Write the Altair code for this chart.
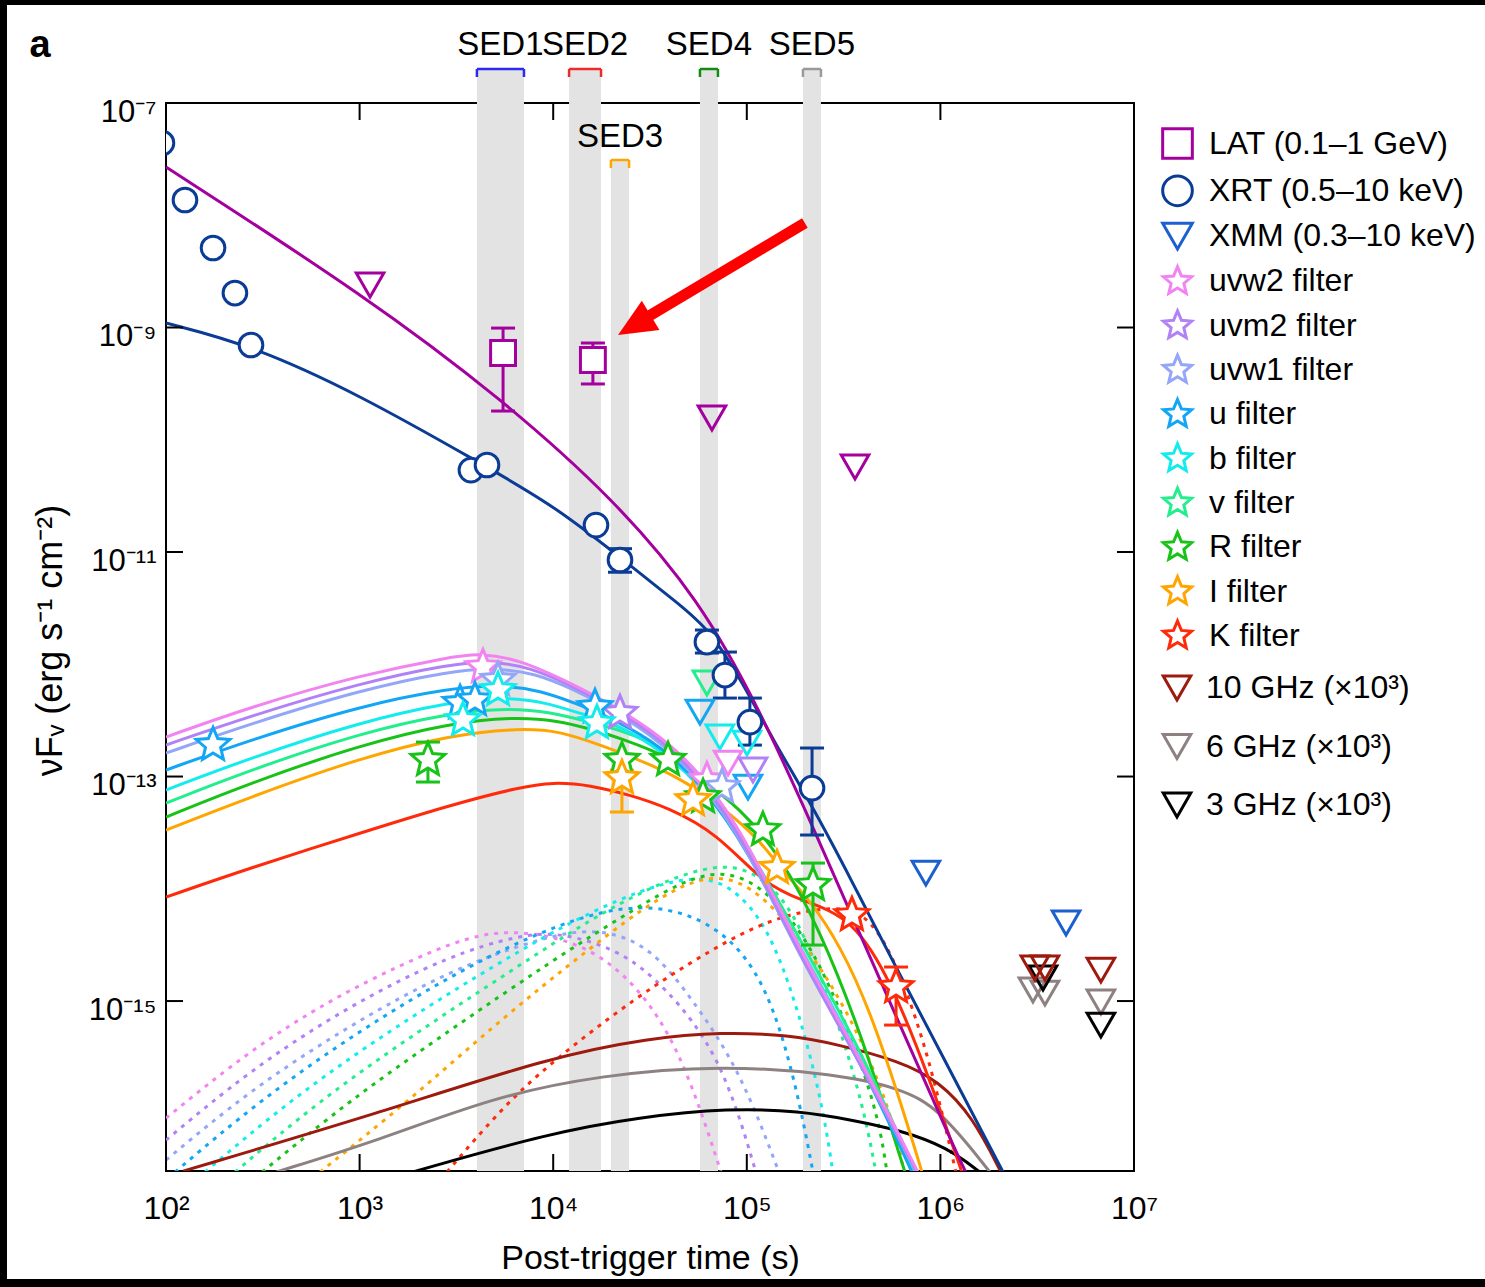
import altair as alt
import pandas as pd

FONT = "Liberation Sans, Arial, Helvetica, sans-serif"
W, H = 968, 1068
Y_BOTTOM = 10 ** -16.514

# ---------------------------------------------------------------------------
# Axis ticks
# ---------------------------------------------------------------------------
X_TICKS = [1e2, 1e3, 1e4, 1e5, 1e6, 1e7]
X_TICK_LABELS = ["10²", "10³", "10⁴", "10⁵", "10⁶", "10⁷"]
Y_TICKS = [1e-15, 1e-13, 1e-11, 1e-9, 1e-7]
Y_TICK_LABELS = ["10⁻¹⁵", "10⁻¹³", "10⁻¹¹", "10⁻⁹", "10⁻⁷"]

# ---------------------------------------------------------------------------
# SED epochs (log10 of start / end time in s)
# ---------------------------------------------------------------------------
SED_NAMES = ["SED1", "SED2", "SED3", "SED4", "SED5"]
SED_LOG_START = [3.606, 4.082, 4.298, 4.758, 5.290]
SED_LOG_END = [3.849, 4.247, 4.392, 4.851, 5.383]

# ---------------------------------------------------------------------------
# Model light curves: log10(t / s) and log10(nuFnu / erg s-1 cm-2)
# ---------------------------------------------------------------------------
LAT_MODEL_LT = [2.000, 3.038, 3.741, 4.309, 4.758, 5.068, 5.342, 5.621, 6.122, 6.204]
LAT_MODEL_LF = [-7.570, -8.728, -9.646, -10.519, -11.428, -12.408, -13.450, -14.546, -16.514, -16.773]
XRT_MODEL_LT = [2.000, 2.439, 3.002, 3.622, 3.999, 4.345, 4.655, 4.810, 4.980, 5.135, 5.342, 5.548, 5.724, 6.049, 6.359]
XRT_MODEL_LF = [-8.960, -9.156, -9.601, -10.207, -10.581, -11.045, -11.472, -11.695, -12.167, -12.675, -13.272, -13.949, -14.546, -15.615, -16.640]

UVW2_LT = [2.000, 2.434, 3.002, 3.467, 3.622, 3.828, 4.035, 4.242, 4.500, 4.758, 5.016, 5.259, 5.585, 5.884]
UVW2_LF = [-12.648, -12.381, -12.096, -11.936, -11.900, -11.962, -12.123, -12.301, -12.568, -12.942, -13.610, -14.501, -15.508, -16.524]
UVM2_LT = [2.000, 2.434, 3.002, 3.467, 3.673, 3.880, 4.087, 4.242, 4.500, 4.758, 5.016, 5.259, 5.585, 5.879]
UVM2_LF = [-12.719, -12.461, -12.167, -11.998, -11.971, -12.025, -12.185, -12.319, -12.586, -12.987, -13.655, -14.546, -15.544, -16.524]
UVW1_LT = [2.000, 2.434, 3.002, 3.467, 3.699, 3.906, 4.112, 4.242, 4.500, 4.758, 5.016, 5.259, 5.585, 5.874]
UVW1_LF = [-12.791, -12.532, -12.230, -12.060, -12.034, -12.078, -12.230, -12.345, -12.613, -13.014, -13.673, -14.564, -15.544, -16.524]
U_LT = [2.000, 2.434, 3.002, 3.467, 3.725, 3.932, 4.138, 4.242, 4.500, 4.758, 5.016, 5.259, 5.585, 5.853]
U_LF = [-12.942, -12.675, -12.372, -12.212, -12.185, -12.230, -12.363, -12.434, -12.657, -13.031, -13.682, -14.546, -15.526, -16.524]
B_LT = [2.000, 2.434, 3.002, 3.467, 3.751, 3.958, 4.164, 4.293, 4.500, 4.758, 5.016, 5.275, 5.585, 5.858]
B_LF = [-13.120, -12.835, -12.515, -12.336, -12.292, -12.336, -12.452, -12.515, -12.693, -13.049, -13.673, -14.528, -15.481, -16.524]
V_LT = [2.000, 2.434, 3.002, 3.467, 3.777, 3.983, 4.190, 4.345, 4.552, 4.758, 5.016, 5.275, 5.585, 5.869]
V_LF = [-13.236, -12.942, -12.613, -12.434, -12.390, -12.426, -12.515, -12.586, -12.719, -13.031, -13.637, -14.457, -15.419, -16.524]
R_LT = [2.000, 2.434, 3.002, 3.467, 3.803, 4.009, 4.216, 4.371, 4.577, 4.758, 4.965, 5.171, 5.378, 5.585, 5.817]
R_LF = [-13.361, -13.058, -12.719, -12.524, -12.470, -12.497, -12.586, -12.675, -12.809, -13.014, -13.281, -13.700, -14.368, -15.259, -16.524]
I_LT = [2.000, 2.434, 3.002, 3.467, 3.828, 4.035, 4.242, 4.448, 4.655, 4.861, 5.068, 5.171, 5.326, 5.481, 5.636, 5.791, 5.905]
I_LF = [-13.477, -13.183, -12.835, -12.630, -12.568, -12.595, -12.719, -12.853, -13.014, -13.254, -13.566, -13.815, -14.100, -14.501, -15.081, -15.882, -16.524]
K_LT = [2.000, 2.434, 3.002, 3.467, 3.828, 3.999, 4.190, 4.397, 4.588, 4.846, 5.083, 5.275, 5.548, 5.755, 5.946, 6.111]
K_LF = [-14.074, -13.815, -13.504, -13.254, -13.094, -13.049, -13.076, -13.165, -13.272, -13.504, -13.949, -14.100, -14.252, -14.858, -15.704, -16.524]

GHZ10_LT = [2.088, 3.100, 3.983, 4.500, 4.867, 5.223, 5.461, 5.791, 5.993, 6.168, 6.313]
GHZ10_LF = [-16.515, -15.998, -15.499, -15.330, -15.276, -15.303, -15.383, -15.535, -15.713, -16.034, -16.524]
GHZ6_LT = [2.568, 3.100, 3.689, 4.242, 4.867, 5.461, 5.791, 5.993, 6.256]
GHZ6_LF = [-16.524, -16.239, -15.856, -15.660, -15.570, -15.650, -15.775, -15.954, -16.524]
GHZ3_LT = [3.271, 3.983, 4.448, 4.908, 5.275, 5.543, 5.791, 6.034, 6.204]
GHZ3_LF = [-16.524, -16.176, -16.034, -15.954, -15.980, -16.060, -16.150, -16.301, -16.524]

# reverse-shock components (dotted)
UVW2_RS_LT = [2.000, 2.434, 2.847, 3.209, 3.570, 3.828, 4.159, 4.428, 4.660, 4.867]
UVW2_RS_LF = [-16.043, -15.437, -14.991, -14.680, -14.412, -14.368, -14.484, -14.840, -15.437, -16.524]
UVM2_RS_LT = [2.000, 2.434, 2.950, 3.467, 3.828, 4.035, 4.345, 4.572, 4.867, 5.047]
UVM2_RS_LF = [-16.239, -15.615, -15.036, -14.591, -14.412, -14.386, -14.546, -14.858, -15.481, -16.524]
UVW1_RS_LT = [2.000, 2.434, 2.950, 3.467, 3.932, 4.221, 4.500, 4.722, 4.965, 5.166]
UVW1_RS_LF = [-16.417, -15.793, -15.214, -14.724, -14.439, -14.341, -14.501, -14.991, -15.615, -16.524]
U_RS_LT = [2.046, 2.486, 3.002, 3.519, 4.035, 4.484, 4.867, 5.104, 5.254, 5.342]
U_RS_LF = [-16.524, -15.882, -15.259, -14.724, -14.296, -14.100, -14.323, -14.840, -15.731, -16.524]
B_RS_LT = [2.201, 2.640, 3.157, 3.673, 4.190, 4.722, 4.965, 5.166, 5.373, 5.445]
B_RS_LF = [-16.524, -15.882, -15.259, -14.706, -14.190, -13.833, -14.011, -14.501, -15.731, -16.524]
V_RS_LT = [2.356, 2.795, 3.312, 3.828, 4.345, 4.867, 5.120, 5.311, 5.579, 5.667]
V_RS_LF = [-16.524, -15.882, -15.259, -14.680, -14.100, -13.717, -13.922, -14.394, -15.731, -16.524]
R_RS_LT = [2.496, 2.950, 3.467, 3.983, 4.448, 4.867, 5.171, 5.399, 5.667, 5.724]
R_RS_LF = [-16.524, -15.882, -15.259, -14.653, -14.145, -13.744, -14.100, -14.697, -15.882, -16.524]
I_RS_LT = [2.795, 3.260, 3.725, 4.190, 4.552, 4.898, 5.223, 5.548, 5.755, 5.812]
I_RS_LF = [-16.524, -15.882, -15.170, -14.528, -14.056, -13.789, -14.279, -15.143, -16.034, -16.524]
K_RS_LT = [3.451, 3.725, 3.983, 4.428, 4.810, 5.135, 5.461, 5.636, 5.791, 5.946, 6.080]
K_RS_LF = [-16.524, -15.971, -15.553, -14.965, -14.546, -14.252, -14.145, -14.234, -14.724, -15.526, -16.524]

# ---------------------------------------------------------------------------
# Observations: log10(t / s) and log10(nuFnu)
# ---------------------------------------------------------------------------
LAT_OBS_LT = [3.741, 4.205]
LAT_OBS_LF = [-9.227, -9.290]
LAT_OBS_HI = [-9.005, -9.138]
LAT_OBS_LO = [-9.744, -9.503]
LAT_UL_LT = [3.054, 4.820, 5.559]
LAT_UL_LF = [-8.621, -9.806, -10.243]

XRT_OBS_LT = [1.979, 2.098, 2.243, 2.356, 2.439, 3.575, 3.658, 4.221, 4.345, 4.794, 4.887, 5.016, 5.337]
XRT_OBS_LF = [-7.356, -7.864, -8.292, -8.693, -9.156, -10.270, -10.225, -10.760, -11.071, -11.802, -12.096, -12.515, -13.103]
XRT_ERR_LT = [4.345, 4.794, 4.887, 5.016, 5.337]
XRT_ERR_HI = [-10.970, -11.695, -11.891, -12.301, -12.746]
XRT_ERR_LO = [-11.180, -11.900, -12.301, -12.720, -13.521]

XMM_UL_LT = [5.925, 6.649]
XMM_UL_LF = [-13.860, -14.305]

UVW2_OBS_LT = [3.637, 4.794]
UVW2_OBS_LF = [-12.025, -13.031]
UVM2_OBS_LT = [4.345]
UVM2_OBS_LF = [-12.434]
UVW1_OBS_LT = [3.715, 4.872]
UVW1_OBS_LF = [-12.140, -13.094]
U_OBS_LT = [2.243, 3.519, 3.596, 4.216]
U_OBS_LF = [-12.719, -12.345, -12.319, -12.381]
B_OBS_LT = [3.534, 3.715, 4.226]
B_OBS_LF = [-12.497, -12.230, -12.524]
V_OBS_LT = []
V_OBS_LF = []
R_OBS_LT = [3.353, 4.355, 4.593, 4.774, 5.083, 5.342]
R_OBS_LF = [-12.853, -12.853, -12.853, -13.183, -13.477, -13.967]
R_ERR_LT = [3.353, 5.342]
R_ERR_HI = [-12.693, -13.771]
R_ERR_LO = [-13.049, -14.501]
I_OBS_LT = [4.355, 4.722, 5.156]
I_OBS_LF = [-13.014, -13.210, -13.815]
I_ERR_LT = [4.355]
I_ERR_HI = [-12.942]
I_ERR_LO = [-13.316]
K_OBS_LT = [5.543, 5.771]
K_OBS_LF = [-14.234, -14.876]
K_ERR_LT = [5.771]
K_ERR_HI = [-14.697]
K_ERR_LO = [-15.214]

# UVOT upper limits
UVW2_UL_LT, UVW2_UL_LF = [4.903], [-12.880]
UVM2_UL_LT, UVM2_UL_LF = [5.032], [-12.942]
U_UL_LT, U_UL_LF = [4.758, 5.006], [-12.426, -13.094]
B_UL_LT, B_UL_LF = [4.861, 5.001], [-12.648, -12.702]
V_UL_LT, V_UL_LF = [4.794], [-12.167]

# radio upper limits (already multiplied by 10^3)
GHZ10_UL_LT, GHZ10_UL_LF = [6.488, 6.540, 6.829], [-14.706, -14.706, -14.724]
GHZ6_UL_LT, GHZ6_UL_LF = [6.478, 6.540, 6.829], [-14.902, -14.929, -15.009]
GHZ3_UL_LT, GHZ3_UL_LF = [6.530, 6.829], [-14.795, -15.214]

# arrow pointing at the LAT detection in SED2: tail, end of shaft, tip
ARROW_LT = [5.300, 4.443, 4.335]
ARROW_LF = [-8.069, -8.951, -9.067]

# ---------------------------------------------------------------------------
# Styling
# ---------------------------------------------------------------------------
C_LAT, C_XRT, C_XMM = "#a4009e", "#0b3c95", "#1c5fcf"
C_UVW2, C_UVM2, C_UVW1 = "#f184f1", "#b181f7", "#93a6f7"
C_U, C_B, C_V = "#12a6f5", "#12ecec", "#22ee8e"
C_R, C_I, C_K = "#17c317", "#ffa500", "#ff2a0a"
C_10, C_6, C_3 = "#9c1a0e", "#8d8181", "#000000"
SED_COLORS = ["#2a2af0", "#f02a2a", "#ffa500", "#118c11", "#9a9a9a"]

# five-pointed star drawn inside the unit box
STAR = ("M0,-1L0.2645,-0.364L0.9511,-0.309L0.428,0.139L0.5878,0.809"
        "L0,0.45L-0.5878,0.809L-0.428,0.139L-0.9511,-0.309L-0.2645,-0.364Z")
ARROW_HEAD = "M0,0L0.45,1L-0.45,1Z"

LEGEND_NAMES = ["LAT (0.1–1 GeV)", "XRT (0.5–10 keV)", "XMM (0.3–10 keV)",
                "uvw2 filter", "uvm2 filter", "uvw1 filter", "u filter", "b filter",
                "v filter", "R filter", "I filter", "K filter"]
LEGEND_COLORS = [C_LAT, C_XRT, C_XMM, C_UVW2, C_UVM2, C_UVW1, C_U, C_B, C_V, C_R, C_I, C_K]
LEGEND_SHAPES = ["square", "circle", "triangle-down"] + [STAR] * 9
RADIO_NAMES = ["10 GHz (×10³)", "6 GHz (×10³)", "3 GHz (×10³)"]
RADIO_COLORS = [C_10, C_6, C_3]

SYMBOL_SIZE = {"square": 620, "circle": 560, "triangle-down": 760, STAR: 1250}
SYMBOL_FILL = {"square": "white", "circle": "white", "triangle-down": "transparent", STAR: "white"}


def ladder(ticks, labels):
    expr = f"'{labels[-1]}'"
    for v, lab in reversed(list(zip(ticks[:-1], labels[:-1]))):
        expr = f"datum.value < {v * 3:.3g} ? '{lab}' : ({expr})"
    return expr


X_SCALE = alt.Scale(type="log", domain=[1e2, 1e7], nice=False)
Y_SCALE = alt.Scale(type="log", domain=[Y_BOTTOM, 1e-7], nice=False)
X_AXIS = alt.Axis(values=X_TICKS, labelExpr=ladder(X_TICKS, X_TICK_LABELS),
                  title="Post-trigger time (s)", labelFlush=False, labelOverlap=False,
                  labelBaseline="alphabetic", labelPadding=47, labelFontSize=32,
                  titleY=97, titleBaseline="alphabetic", titleFontSize=34)
Y_AXIS = alt.Axis(values=Y_TICKS, labelExpr=ladder(Y_TICKS, Y_TICK_LABELS),
                  title="νFᵥ (erg s⁻¹ cm⁻²)", labelFlush=False, labelOverlap=False,
                  labelBaseline="alphabetic", labelOffset=18, labelPadding=10, labelFontSize=31,
                  titleX=-116, titleY=H / 2 + 3, titleAngle=-90, titleAlign="center",
                  titleBaseline="middle", titleFontSize=36)


def X(field):
    return alt.X(field, type="quantitative", scale=X_SCALE, axis=X_AXIS)


def Y(field):
    return alt.Y(field, type="quantitative", scale=Y_SCALE, axis=Y_AXIS)


def curve_rows(name, color, lt, lf):
    return [{"curve": name, "col": color, "t": 10 ** a, "f": 10 ** b} for a, b in zip(lt, lf)]


# ---------------------------------------------------------------------------
# Data frames
# ---------------------------------------------------------------------------
solid_df = pd.DataFrame(
    curve_rows("10GHz", C_10, GHZ10_LT, GHZ10_LF)
    + curve_rows("6GHz", C_6, GHZ6_LT, GHZ6_LF)
    + curve_rows("3GHz", C_3, GHZ3_LT, GHZ3_LF)
    + curve_rows("K", C_K, K_LT, K_LF)
    + curve_rows("I", C_I, I_LT, I_LF)
    + curve_rows("R", C_R, R_LT, R_LF)
    + curve_rows("v", C_V, V_LT, V_LF)
    + curve_rows("b", C_B, B_LT, B_LF)
    + curve_rows("u", C_U, U_LT, U_LF)
    + curve_rows("uvw1", C_UVW1, UVW1_LT, UVW1_LF)
    + curve_rows("uvm2", C_UVM2, UVM2_LT, UVM2_LF)
    + curve_rows("uvw2", C_UVW2, UVW2_LT, UVW2_LF)
    + curve_rows("xrt", C_XRT, XRT_MODEL_LT, XRT_MODEL_LF)
    + curve_rows("lat", C_LAT, LAT_MODEL_LT, LAT_MODEL_LF)
)

dotted_df = pd.DataFrame(
    curve_rows("uvw2", C_UVW2, UVW2_RS_LT, UVW2_RS_LF)
    + curve_rows("uvm2", C_UVM2, UVM2_RS_LT, UVM2_RS_LF)
    + curve_rows("uvw1", C_UVW1, UVW1_RS_LT, UVW1_RS_LF)
    + curve_rows("u", C_U, U_RS_LT, U_RS_LF)
    + curve_rows("b", C_B, B_RS_LT, B_RS_LF)
    + curve_rows("v", C_V, V_RS_LT, V_RS_LF)
    + curve_rows("R", C_R, R_RS_LT, R_RS_LF)
    + curve_rows("I", C_I, I_RS_LT, I_RS_LF)
    + curve_rows("K", C_K, K_RS_LT, K_RS_LF)
)

err_rows = []
for col, lts, his, los in [(C_LAT, LAT_OBS_LT, LAT_OBS_HI, LAT_OBS_LO),
                           (C_XRT, XRT_ERR_LT, XRT_ERR_HI, XRT_ERR_LO),
                           (C_R, R_ERR_LT, R_ERR_HI, R_ERR_LO),
                           (C_I, I_ERR_LT, I_ERR_HI, I_ERR_LO),
                           (C_K, K_ERR_LT, K_ERR_HI, K_ERR_LO)]:
    for a, hi, lo in zip(lts, his, los):
        err_rows.append({"col": col, "t": 10 ** a, "hi": 10 ** hi, "lo": 10 ** lo})
err_df = pd.DataFrame(err_rows)
cap_df = pd.concat([
    err_df[["col", "t", "hi"]].rename(columns={"hi": "f"}),
    err_df[["col", "t", "lo"]].rename(columns={"lo": "f"}),
])

obs_sets = [
    (LAT_OBS_LT, LAT_OBS_LF), (XRT_OBS_LT, XRT_OBS_LF), (XMM_UL_LT, XMM_UL_LF),
    (UVW2_OBS_LT, UVW2_OBS_LF), (UVM2_OBS_LT, UVM2_OBS_LF), (UVW1_OBS_LT, UVW1_OBS_LF),
    (U_OBS_LT, U_OBS_LF), (B_OBS_LT, B_OBS_LF), (V_OBS_LT, V_OBS_LF),
    (R_OBS_LT, R_OBS_LF), (I_OBS_LT, I_OBS_LF), (K_OBS_LT, K_OBS_LF),
]
obs_rows = []
for name, shape, (lts, lfs) in zip(LEGEND_NAMES, LEGEND_SHAPES, obs_sets):
    for a, b in zip(lts, lfs):
        obs_rows.append({"series": name, "t": 10 ** a, "f": 10 ** b,
                         "fc": SYMBOL_FILL[shape], "sz": SYMBOL_SIZE[shape]})
obs_df = pd.DataFrame(obs_rows)

ul_rows = []
for col, lts, lfs in [(C_LAT, LAT_UL_LT, LAT_UL_LF), (C_V, V_UL_LT, V_UL_LF),
                      (C_U, U_UL_LT, U_UL_LF), (C_B, B_UL_LT, B_UL_LF),
                      (C_UVW2, UVW2_UL_LT, UVW2_UL_LF), (C_UVM2, UVM2_UL_LT, UVM2_UL_LF)]:
    for a, b in zip(lts, lfs):
        ul_rows.append({"col": col, "t": 10 ** a, "f": 10 ** b})
ul_df = pd.DataFrame(ul_rows)

radio_rows = []
for name, lts, lfs in [(RADIO_NAMES[1], GHZ6_UL_LT, GHZ6_UL_LF),
                       (RADIO_NAMES[2], GHZ3_UL_LT, GHZ3_UL_LF),
                       (RADIO_NAMES[0], GHZ10_UL_LT, GHZ10_UL_LF)]:
    for a, b in zip(lts, lfs):
        radio_rows.append({"band": name, "t": 10 ** a, "f": 10 ** b})
radio_df = pd.DataFrame(radio_rows)

sed_df = pd.DataFrame({"name": SED_NAMES,
                       "t0": [10 ** v for v in SED_LOG_START],
                       "t1": [10 ** v for v in SED_LOG_END],
                       "col": SED_COLORS})
sed_top = sed_df[sed_df["name"] != "SED3"]
sed_low = sed_df[sed_df["name"] == "SED3"]

# ---------------------------------------------------------------------------
# Layers
# ---------------------------------------------------------------------------
layers = []

# SED shading, brackets and names
for part, ytop, ytext in [(sed_top, -34, -48), (sed_low, 57, 44)]:
    base = alt.Chart(part)
    layers.append(base.mark_rect(color="#e3e3e3").encode(
        x=X("t0"), x2="t1", y=alt.value(ytop), y2=alt.value(H)))
    layers.append(base.mark_rule(strokeWidth=2.5).encode(
        x=X("t0"), x2="t1", y=alt.value(ytop), stroke=alt.Stroke("col:N", scale=None)))
    for edge in ["t0", "t1"]:
        layers.append(base.mark_rule(strokeWidth=2.5).encode(
            x=X(edge), y=alt.value(ytop), y2=alt.value(ytop + 8),
            stroke=alt.Stroke("col:N", scale=None)))
    layers.append(base.mark_text(fontSize=33, baseline="alphabetic", align="center").encode(
        x=alt.X("tc:Q", scale=X_SCALE, axis=X_AXIS), y=alt.value(ytext), text="name:N"
    ).transform_calculate(tc="sqrt(datum.t0 * datum.t1)"))

# model curves
layers.append(alt.Chart(dotted_df).mark_line(
    strokeWidth=3, strokeDash=[4, 6], interpolate="basis", clip=True).encode(
    x=X("t"), y=Y("f"), detail="curve:N",
    stroke=alt.Stroke("col:N", scale=None)))
layers.append(alt.Chart(solid_df).mark_line(
    strokeWidth=3, interpolate="basis", clip=True).encode(
    x=X("t"), y=Y("f"), detail="curve:N",
    stroke=alt.Stroke("col:N", scale=None)))

# error bars with caps
layers.append(alt.Chart(err_df).mark_rule(strokeWidth=3).encode(
    x=X("t"), y=Y("lo"), y2="hi", stroke=alt.Stroke("col:N", scale=None)))
layers.append(alt.Chart(cap_df).mark_tick(orient="horizontal", size=24, thickness=3, opacity=1).encode(
    x=X("t"), y=Y("f"), color=alt.Color("col:N", scale=None)))

# upper limits that are not part of the legend
layers.append(alt.Chart(ul_df).mark_point(
    shape="triangle-down", size=760, strokeWidth=3, opacity=1, filled=False, clip=True).encode(
    x=X("t"), y=Y("f"), stroke=alt.Stroke("col:N", scale=None)))

# observations
main_legend = alt.Legend(
    title=None, orient="none", legendX=995, legendY=24, direction="vertical",
    labelFont=FONT, labelFontSize=32, labelColor="black", labelLimit=400,
    symbolSize=880, symbolStrokeWidth=3, symbolFillColor="white",
    rowPadding=4.3, labelOffset=15, padding=0)
layers.append(alt.Chart(obs_df).mark_point(strokeWidth=3, opacity=1, filled=False, clip=True).encode(
    x=X("t"), y=Y("f"),
    stroke=alt.Stroke("series:N", scale=alt.Scale(domain=LEGEND_NAMES, range=LEGEND_COLORS),
                      legend=main_legend),
    shape=alt.Shape("series:N", scale=alt.Scale(domain=LEGEND_NAMES, range=LEGEND_SHAPES),
                    legend=main_legend),
    fill=alt.Fill("fc:N", scale=None),
    size=alt.Size("sz:Q", scale=None)))

radio_legend = alt.Legend(
    title=None, orient="none", legendX=995, legendY=569, direction="vertical",
    labelFont=FONT, labelFontSize=32, labelColor="black", labelLimit=400,
    symbolSize=760, symbolStrokeWidth=3, symbolFillColor="transparent",
    rowPadding=22.5, labelOffset=13, padding=0)
layers.append(alt.Chart(radio_df).mark_point(
    shape="triangle-down", size=760, strokeWidth=3, opacity=1, filled=False, clip=True).encode(
    x=X("t"), y=Y("f"),
    stroke=alt.Stroke("band:N", scale=alt.Scale(domain=RADIO_NAMES, range=RADIO_COLORS),
                      legend=radio_legend),
    shape=alt.Shape("band:N", scale=alt.Scale(domain=RADIO_NAMES, range=["triangle-down"] * 3),
                    legend=radio_legend)))

# red arrow
arrow_shaft = pd.DataFrame({"t": [10 ** ARROW_LT[0]], "f": [10 ** ARROW_LF[0]],
                            "t2": [10 ** ARROW_LT[1]], "f2": [10 ** ARROW_LF[1]]})
arrow_tip = pd.DataFrame({"t": [10 ** ARROW_LT[2]], "f": [10 ** ARROW_LF[2]]})
layers.append(alt.Chart(arrow_shaft).mark_rule(color="#ff0000", strokeWidth=11).encode(
    x=X("t"), y=Y("f"), x2="t2", y2="f2"))
layers.append(alt.Chart(arrow_tip).mark_point(
    shape=ARROW_HEAD, size=5776, angle=239, filled=True,
    color="#ff0000", opacity=1, strokeWidth=0).encode(x=X("t"), y=Y("f")))

# inward tick marks on all four sides
xt = alt.Chart(pd.DataFrame({"t": X_TICKS}))
yt = alt.Chart(pd.DataFrame({"f": Y_TICKS}))
layers.append(xt.mark_rule(color="black", strokeWidth=2).encode(
    x=X("t"), y=alt.value(H), y2=alt.value(H - 17)))
layers.append(xt.mark_rule(color="black", strokeWidth=2).encode(
    x=X("t"), y=alt.value(0), y2=alt.value(17)))
layers.append(yt.mark_rule(color="black", strokeWidth=2).encode(
    y=Y("f"), x=alt.value(0), x2=alt.value(17)))
layers.append(yt.mark_rule(color="black", strokeWidth=2).encode(
    y=Y("f"), x=alt.value(W), x2=alt.value(W - 17)))

# panel letter
layers.append(alt.Chart(pd.DataFrame({"txt": ["a"]})).mark_text(
    fontSize=38, fontWeight="bold", align="center", baseline="alphabetic").encode(
    x=alt.value(-126), y=alt.value(-46), text="txt:N"))

# dark page edges
edge = alt.Chart(pd.DataFrame({"k": [0]}))
layers.append(edge.mark_rect(color="black").encode(
    x=alt.value(-166), x2=alt.value(-159), y=alt.value(-103), y2=alt.value(H + 116)))
layers.append(edge.mark_rect(color="black").encode(
    x=alt.value(-166), x2=alt.value(W + 351), y=alt.value(-103), y2=alt.value(-98)))
layers.append(edge.mark_rect(color="black").encode(
    x=alt.value(-166), x2=alt.value(W + 351), y=alt.value(H + 108), y2=alt.value(H + 116)))

chart = alt.layer(*layers).properties(
    width=W, height=H,
    padding={"left": 166, "top": 103, "right": 351, "bottom": 116},
    autosize=alt.AutoSizeParams(type="none"),
    background="white",
).resolve_scale(
    stroke="independent", shape="independent"
).configure(
    font=FONT
).configure_view(
    stroke="black", strokeWidth=2
).configure_axis(
    grid=False, domain=False, ticks=False, tickSize=0,
    labelFont=FONT, titleFont=FONT, labelColor="black", titleColor="black",
    titleFontWeight="normal"
)

chart.save("out.html", embed_options={"renderer": "svg", "actions": False})
